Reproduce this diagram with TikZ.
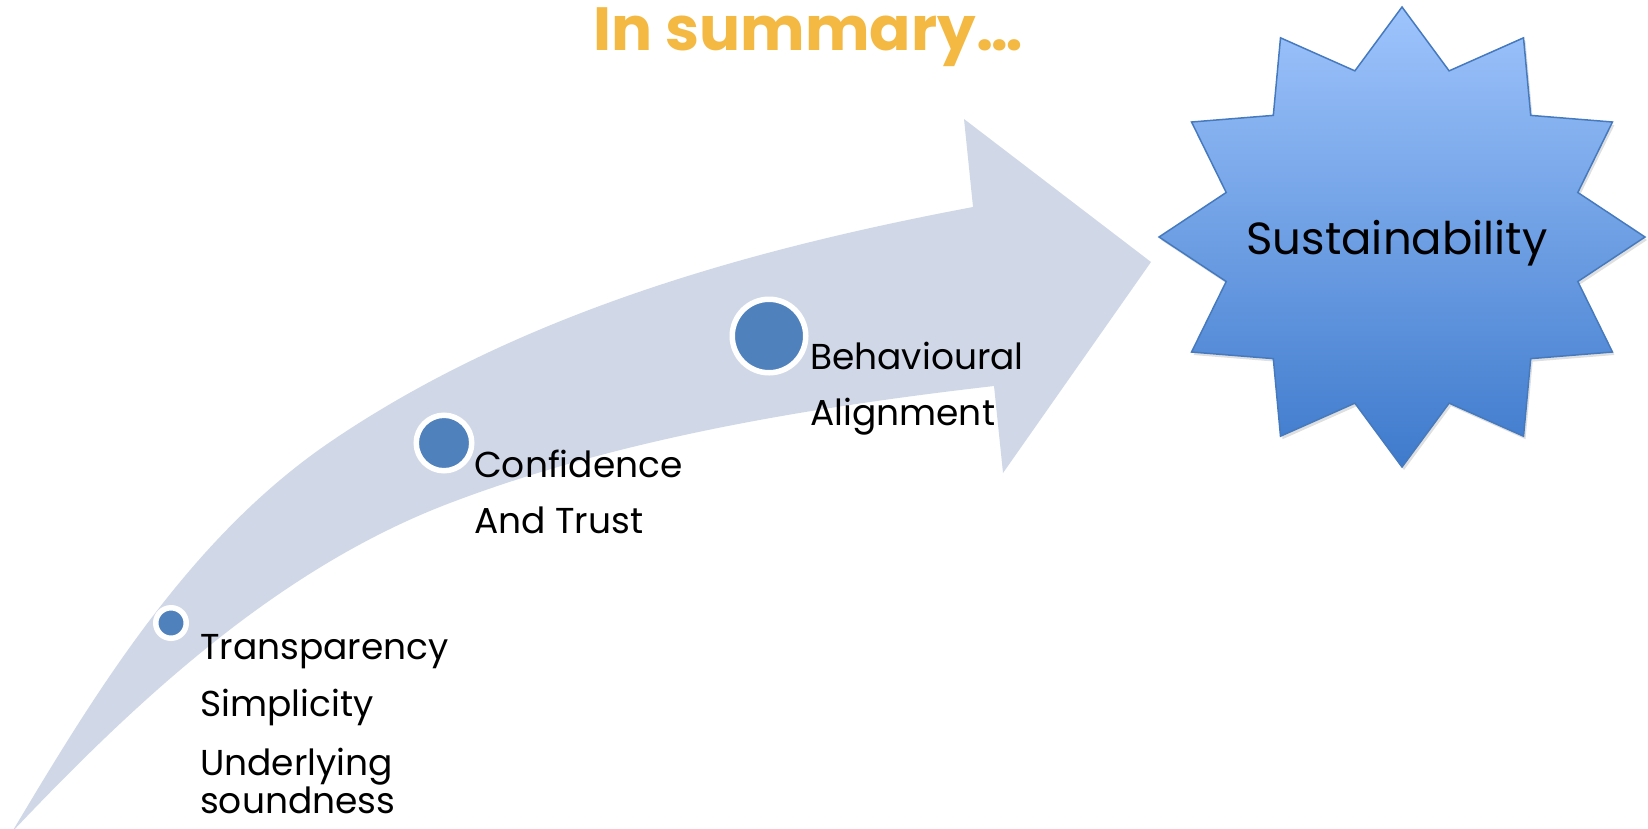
\documentclass[tikz,border=0pt]{standalone}
\usepackage{fontspec}
\setmainfont{Poppins}
\usetikzlibrary{shadows}
\definecolor{bandgray}{RGB}{208,216,232}
\definecolor{dotblue}{RGB}{79,129,189}
\definecolor{starline}{RGB}{70,122,190}
\definecolor{startop}{RGB}{158,196,252}
\definecolor{starbot}{RGB}{62,122,204}
\definecolor{headline}{RGB}{244,185,66}

\begin{document}
\begin{tikzpicture}[x=1pt,y=-1pt,
    dot/.style={circle,fill=dotblue,draw=white,line width=5.5pt,inner sep=0pt},
    lbl/.style={anchor=base west,align=left,inner sep=0pt,font=\fontsize{36}{38}\selectfont}]
    \useasboundingbox (0,0) rectangle (1648,828);

    \fill[bandgray] (12,832) .. controls (99,686) and (192,535) .. (333,440)
        .. controls (521,313) and (750,249) .. (973,207)
        -- (964,119) -- (1151,262) -- (1003,473) -- (994,386)
        .. controls (812,407) and (621,438) .. (450,503)
        .. controls (279,568) and (138,699) .. (12,832) -- cycle;

    \begin{scope}[shift={(1402,237)}]
        \draw[starline,line width=1.5pt,top color=startop,bottom color=starbot,
            drop shadow={opacity=0.25,shadow xshift=2pt,shadow yshift=-3pt}]
            (0:243 and 230) \foreach \a in {0,30,...,330} {-- (\a+15:182 and 172) -- (\a+30:243 and 230)} -- cycle;
    \end{scope}

    \node[dot,minimum size=30.5pt] (c1) at (171,623) {};
    \node[dot,minimum size=55.5pt] (c2) at (444,443) {};
    \node[dot,minimum size=73.5pt] (c3) at (769,336) {};

    \node[lbl] (t1) at (200,813) {Transparency\\[19pt]Simplicity\\[21pt]Underlying\\soundness};
    \node[lbl] (t2) at (474,533) {Confidence\\[18pt]And Trust};
    \node[lbl] (t3) at (810,425) {Behavioural\\[18pt]Alignment};

    \node[font=\bfseries\fontsize{61}{66}\selectfont,text=headline,anchor=base] (title) at (808,50) {In summary…};
    \node[font=\fontsize{45}{50}\selectfont,anchor=base] (goal) at (1397,254) {Sustainability};
\end{tikzpicture}
\end{document}
